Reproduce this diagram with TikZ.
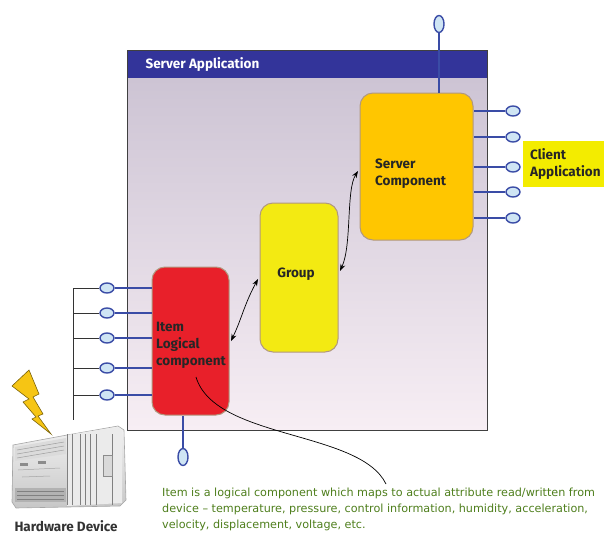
\documentclass[tikz,border=0pt]{standalone}
\usepackage{fontspec}
\setsansfont{Fira Sans}
\newfontfamily\notefont{DejaVu Sans}
\usetikzlibrary{shapes.geometric,arrows.meta}
\definecolor{appBlue}{HTML}{33349A}
\definecolor{appTop}{HTML}{CDC4D4}
\definecolor{appBot}{HTML}{F7EEF4}
\definecolor{portBlue}{HTML}{3A4CA6}
\definecolor{portFill}{HTML}{CFE5F4}
\definecolor{serverCol}{HTML}{FFC600}
\definecolor{groupCol}{HTML}{F3EA12}
\definecolor{itemCol}{HTML}{E8202A}
\definecolor{clientCol}{HTML}{F3EC00}
\definecolor{noteCol}{HTML}{4E7E1C}
\definecolor{boltCol}{HTML}{F6C514}
\begin{document}
\begin{tikzpicture}[x=1pt,y=-1pt,font=\sffamily\bfseries,
  comp/.style={draw=black!35!brown!60, line width=1pt, rounded corners=13pt, inner sep=0pt},
  lbl/.style={text=black!85, font=\fontsize{13.5}{17}\selectfont\sffamily\bfseries, align=left, inner sep=0pt},
  port/.style={ellipse, draw=portBlue, fill=portFill, line width=1.4pt, inner sep=0pt},
  hport/.style={port, minimum width=14pt, minimum height=10pt},
  vport/.style={port, minimum width=10pt, minimum height=17pt},
  wire/.style={draw=portBlue, line width=1.4pt},
  bus/.style={draw=black!80, line width=1pt},
  link/.style={draw=black, line width=0.7pt, {Stealth[length=7pt,width=5pt]}-{Stealth[length=7pt,width=5pt]}}]
\useasboundingbox (0,0) rectangle (604,538);

% server application frame
\shade[top color=appTop, bottom color=appBot] (127,78) rectangle (487,430);
\fill[appBlue] (127,50) rectangle (487,78);
\draw[black!75, line width=1pt] (127,50) rectangle (487,430);
\node[anchor=west, text=white, font=\fontsize{13.5}{15}\selectfont\sffamily\bfseries] (apptitle) at (142,64.5) {Server Application};

% components
\node[comp, fill=serverCol, minimum width=113pt, minimum height=147pt] (server) at (416.5,166.5) {};
\node[comp, fill=groupCol, minimum width=78pt, minimum height=149pt] (group) at (299,277.5) {};
\node[comp, fill=itemCol, minimum width=77pt, minimum height=148pt] (item) at (190.5,341) {};
\node[lbl, anchor=west] (servertxt) at (375,174) {Server\\Component};
\node[lbl] (grouptxt) at (296,274) {Group};
\node[lbl, anchor=west] (itemtxt) at (156,345) {Item\\Logical\\component};

% ports of the server component
\node[vport] (ptop) at (439,24) {};
\draw[wire] (ptop.south) -- (ptop.south |- server.north);
\foreach \y [count=\i] in {111,137,167,192,218}{
  \node[hport] (sp\i) at (513,\y) {};
  \draw[wire] (sp\i.west) -- (sp\i.west -| server.east);
}
\node[fill=clientCol, minimum width=81pt, minimum height=46pt, inner sep=0pt] (client) at (563.5,164) {};
\node[lbl, anchor=west] (clienttxt) at (530,164) {Client\\Application};

% ports of the item
\coordinate (busTop) at (73,288);
\coordinate (busEnd) at (73,420);
\draw[bus] (busTop) -- (busEnd);
\foreach \y [count=\i] in {288,313,338,368,395}{
  \node[hport] (ip\i) at (107,\y) {};
  \draw[wire] (ip\i.east) -- (ip\i.east -| item.west);
  \draw[bus] (ip\i.west) -- (ip\i.west -| busTop);
}
\node[vport] (pbot) at (183,457) {};
\draw[wire] (pbot.north) -- (pbot.north |- item.south);

% links between components
\draw[link] ([xshift=1.5pt]item.east |- 0,341) .. controls (242,318) and (244,305) .. ([xshift=-1.5pt]group.west |- 0,279);
\draw[link] ([xshift=1.5pt]group.east |- 0,271) .. controls (352,245) and (346,190) .. ([xshift=-1.5pt]server.west |- 0,171);

% annotation
\coordinate (noteEnd) at (386,484);
\draw[black, line width=0.7pt] (196,377) .. controls (215,440) and (360,430) .. (noteEnd);
\node[anchor=north west, align=left, text=noteCol, inner sep=0pt,
  font=\notefont\fontsize{11.2}{16}\selectfont] (note) at (162,488)
  {Item is a logical component which maps to actual attribute read/written from\\
   device – temperature, pressure, control information, humidity, acceleration,\\
   velocity, displacement, voltage, etc.};

% hardware device: lightning bolt
\fill[boltCol, draw=black!50!boltCol, line width=0.6pt]
  (12,386) -- (29,370) -- (39,394) -- (33,397) -- (43,414) -- (38,416) -- (51,434)
  -- (32,419) -- (36,417) -- (23,402) -- (29,399) -- cycle;
% hardware device: controller body
\shade[top color=black!5, bottom color=black!22, draw=black!35, line width=0.6pt]
  (13,445) -- (67,435) -- (118,426) -- (124,430) -- (126,500) -- (120,506) -- (16,508) -- (12,502) -- cycle;
% left panel with grilles
\fill[black!14] (15,447) -- (66,438) -- (66,454) -- (15,461) -- cycle;
\foreach \yy in {450,454,458}{
  \draw[black!38, line width=0.5pt] (17,\yy) -- (64,\yy-8);
}
\fill[black!30] (15,488) rectangle (66,502);
\foreach \yy in {491,495,499}{
  \draw[black!50, line width=0.5pt] (17,\yy) -- (64,\yy);
}
\draw[black!35, line width=0.5pt] (18,470) -- (60,468);
\draw[black!35, line width=0.5pt] (22,477) -- (50,476);
\fill[black!45] (20,463) rectangle (28,466);
\fill[black!45] (38,461) rectangle (46,464);
% right modules
\fill[white!92!black] (67,435) -- (118,427) -- (122,430) -- (122,503) -- (67,506) -- cycle;
\foreach \xx in {67,72,80,85,90,96,112}{
  \draw[black!50, line width=0.8pt] (\xx,434) -- (\xx,505);
}
\fill[black!15, draw=black!45, line width=0.5pt] (103,455) rectangle (112,476);
\node[text=black!80, font=\fontsize{13.5}{15}\selectfont\sffamily\bfseries] (hwtxt) at (66,526) {Hardware Device};
\end{tikzpicture}
\end{document}
